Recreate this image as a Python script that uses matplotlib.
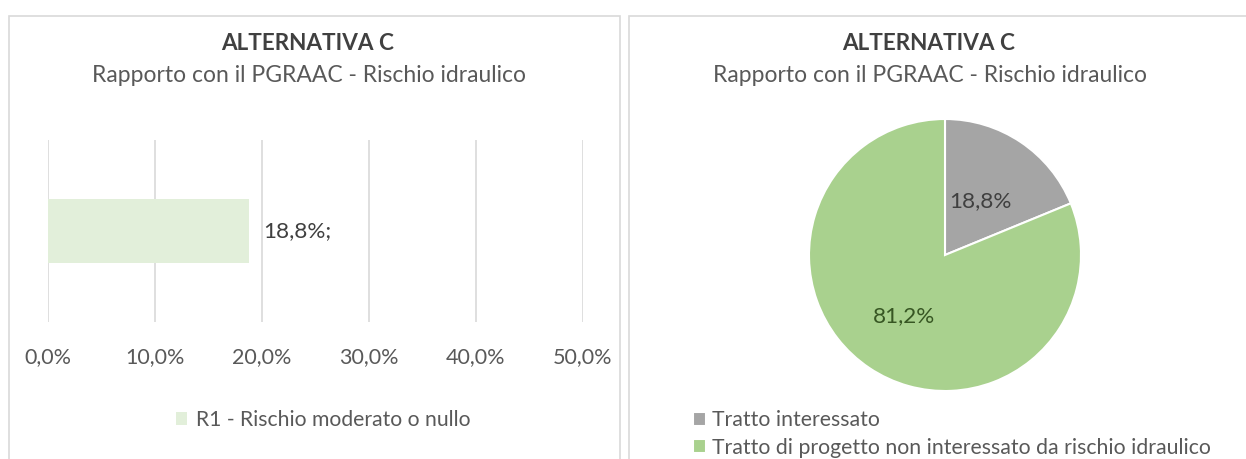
import matplotlib
matplotlib.use("Agg")
import matplotlib.pyplot as plt
from matplotlib.patches import Rectangle

plt.rcParams['font.family'] = ['Lato', 'DejaVu Sans']

title = "ALTERNATIVA C"
subtitle = "Rapporto con il PGRAAC - Rischio idraulico"

bar_categories = ["R1 - Rischio moderato o nullo"]
bar_values = [0.188]
bar_ticks = [0.0, 0.1, 0.2, 0.3, 0.4, 0.5]
bar_tick_labels = ["0,0%", "10,0%", "20,0%", "30,0%", "40,0%", "50,0%"]

pie_labels = ["Tratto interessato",
              "Tratto di progetto non interessato da rischio idraulico"]
pie_values = [18.8, 81.2]
pie_texts = ["18,8%", "81,2%"]

W, H = 1246, 459
fig = plt.figure(figsize=(W / 100, H / 100), dpi=100)
fig.patch.set_facecolor("white")

def fx(px):
    return px / W

def fy(py):
    return 1 - py / H

txt = "#595959"
border = "#d9d9d9"

# panel borders
fig.add_artist(Rectangle((fx(9), fy(470)), fx(611), fy(16) - fy(470),
                         transform=fig.transFigure, fill=False,
                         edgecolor=border, lw=1.2))
fig.add_artist(Rectangle((fx(629), fy(470)), fx(640), fy(16) - fy(470),
                         transform=fig.transFigure, fill=False,
                         edgecolor=border, lw=1.2))

# ---- Left: bar chart ----
fig.text(fx(308), fy(43), title, ha="center", va="center", fontsize=16.2,
         fontweight="bold", color="#404040")
fig.text(fx(309), fy(75), subtitle, ha="center", va="center", fontsize=16.5,
         color=txt)

ax = fig.add_axes([fx(48), fy(322), fx(583) - fx(48), fy(140) - fy(322)])
bars = ax.barh([0], bar_values, height=0.35, color="#e2efda",
               label=bar_categories[0], zorder=2)
ax.set_xlim(0, 0.5)
ax.set_ylim(-0.5, 0.5)
ax.set_xticks(bar_ticks)
ax.set_xticklabels(bar_tick_labels, fontsize=15.5, color=txt)
ax.set_yticks([])
ax.tick_params(axis="x", length=0, pad=18)
ax.grid(axis="x", color="#d9d9d9", lw=1.2, zorder=0)
for s in ax.spines.values():
    s.set_visible(False)
for v in bar_values:
    ax.text(v + 0.013, 0, ("%.1f%%;" % (v * 100)).replace(".", ","),
            va="center", ha="left", fontsize=16.2, color="#404040")

fig.legend(handles=[bars], labels=bar_categories, loc="center",
           bbox_to_anchor=(fx(323), fy(420)), frameon=False, fontsize=15.2,
           labelcolor=txt, handlelength=0.55, handleheight=0.55,
           handletextpad=0.4)

# ---- Right: pie chart ----
fig.text(fx(929), fy(43), title, ha="center", va="center", fontsize=16.2,
         fontweight="bold", color="#404040")
fig.text(fx(930), fy(75), subtitle, ha="center", va="center", fontsize=16.5,
         color=txt)

pax = fig.add_axes([fx(809), fy(391), fx(1081) - fx(809), fy(119) - fy(391)])
wedges, _ = pax.pie(pie_values, colors=["#a5a5a5", "#a9d18e"],
                    startangle=90, counterclock=False,
                    wedgeprops=dict(edgecolor="white", linewidth=1.5))
pax.set_xlim(-1, 1)
pax.set_ylim(-1, 1)
pax.text(0.26, 0.40, pie_texts[0], ha="center", va="center", fontsize=16.2,
         color="#404040")
pax.text(-0.30, -0.45, pie_texts[1], ha="center", va="center", fontsize=16.2,
         color="#375623")

fig.legend(handles=wedges, labels=pie_labels, loc="center left",
           bbox_to_anchor=(fx(693), fy(434)), frameon=False, fontsize=15.3,
           labelcolor=txt, handlelength=0.6, handleheight=0.6,
           handletextpad=0.3, labelspacing=0.35, borderaxespad=0,
           borderpad=0)

fig.savefig("out.png", dpi=100, facecolor="white")
